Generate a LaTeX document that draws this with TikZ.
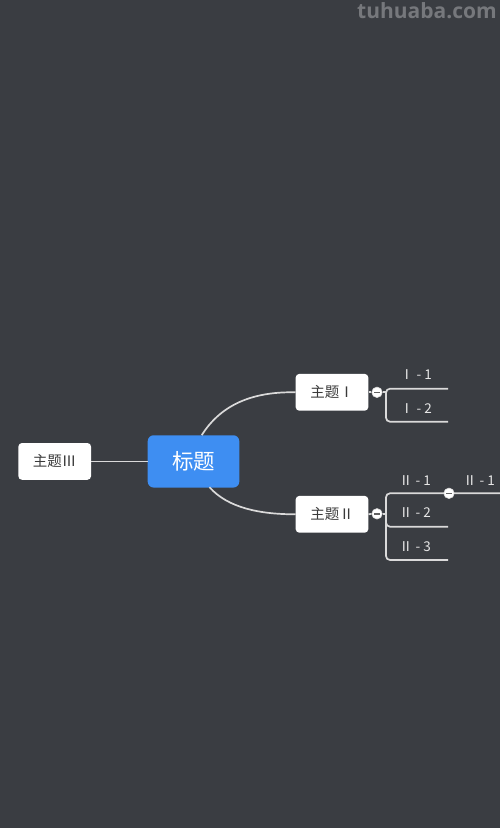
\documentclass[tikz,border=0pt]{standalone}
\usepackage{fontspec}
\usetikzlibrary{calc}
\newfontfamily\cjk{Noto Sans CJK SC}
\newfontfamily\wm{Open Sans}
\definecolor{bg}{HTML}{3A3D42}
\definecolor{mainblue}{HTML}{3E8EF2}
\definecolor{linec}{HTML}{DADADA}
\definecolor{txt}{HTML}{3A3A3A}
\definecolor{lab}{HTML}{E6E6E6}
\definecolor{wmc}{HTML}{76787C}
\begin{document}
\begin{tikzpicture}[x=1pt,y=-1pt,
  topic/.style={draw=none,fill=white,rounded corners=3.5pt,minimum width=72.6pt,minimum height=36.7pt,inner sep=0pt,font=\cjk\fontsize{14.5}{15}\selectfont,text=txt},
  central/.style={fill=mainblue,rounded corners=6pt,minimum width=91.6pt,minimum height=52.3pt,inner sep=0pt,font=\cjk\fontsize{21.5}{23}\selectfont,text=white},
  conn/.style={draw=linec,line width=1.7pt},
  fold/.style={circle,fill=white,draw=linec,line width=0.6pt,minimum size=10.5pt,inner sep=0pt},
  leaf/.style={font=\cjk\fontsize{13.5}{14}\selectfont,text=lab,inner sep=0pt}]
\useasboundingbox[fill=bg] (0,0) rectangle (500,828);
\node[font=\wm\bfseries\fontsize{21}{22}\selectfont,text=wmc,anchor=east,inner sep=0pt] (wmark) at (497,11) {tuhuaba.com};

\node[central] (c) at (193.5,461.4) {标题};
\node[topic] (t3) at (54.7,461.4) {主题Ⅲ};
\node[topic] (t1) at (332,392.3) {主题Ⅰ};
\node[topic] (t2) at (332,514.3) {主题Ⅱ};

\draw[conn] (t3.east) -- (c.west);
\draw[conn] (201.7,435.2) coordinate (c1) .. controls (222,403) and (255,391.5) .. (t1.west);
\draw[conn] (209.5,487.2) coordinate (c2) .. controls (228,508) and (260,514.3) .. (t2.west);

% branch I
\node[fold] (f1) at (377,392.3) {};
\draw[conn] (t1.east) -- (f1.west);
\coordinate (b1a) at (448,388.7);
\coordinate (b1b) at (448,421.7);
\draw[conn,rounded corners=4pt] (b1a) -- (386,388.7) -- (386,421.7) -- (b1b);
\draw[conn] (f1.east) -- (386,392.3);
\node[leaf] (l11) at (416,375) {Ⅰ - 1};
\node[leaf] (l12) at (416,408.3) {Ⅰ - 2};

% branch II
\node[fold] (f2) at (377,513.8) {};
\draw[conn] (t2.east) -- (f2.west);
\coordinate (b2a) at (500,493.3);
\coordinate (b2b) at (448,526.7);
\coordinate (b2c) at (448,560);
\draw[conn,rounded corners=4pt] (b2a) -- (386,493.3) -- (386,560) -- (b2c);
\draw[conn,rounded corners=4pt] (386,520) -- (386,526.7) -- (b2b);
\draw[conn] (f2.east) -- (386,513.8);
\node[fold] (f3) at (449,493.3) {};
\node[leaf] (l21) at (415,480.7) {Ⅱ - 1};
\node[leaf] (l22) at (415,513) {Ⅱ - 2};
\node[leaf] (l23) at (415,547) {Ⅱ - 3};
\node[leaf,anchor=west] (l211) at (463,480.7) {Ⅱ - 1};
\foreach \f in {f1,f2,f3}{
  \fill[txt!80] ($(\f.center)+(-3.2,-0.7)$) rectangle ($(\f.center)+(3.2,0.7)$);
}
\end{tikzpicture}
\end{document}
